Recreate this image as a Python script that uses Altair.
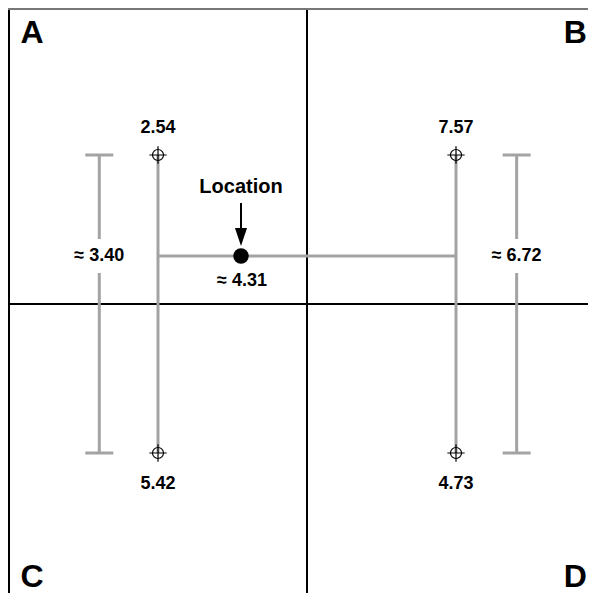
import altair as alt
import pandas as pd

# ---- diagram values (grid units: frame spans 0..4, cell centres at 1 and 3) ----
corner_values = [2.54, 7.57, 5.42, 4.73]
corner_u = [1.0, 3.0, 1.0, 3.0]
corner_v = [3.0, 3.0, 1.0, 1.0]
corner_row = ["top", "top", "bottom", "bottom"]

letters = ["A", "B", "C", "D"]
letter_u = [0.155, 3.80, 0.155, 3.80]
letter_v = [3.82, 3.82, 0.17, 0.17]

location_u = 1.557
location_v = 2.322
left_interp = "≈ 3.40"
right_interp = "≈ 6.72"
final_interp = "≈ 4.31"
errbar_u = [0.606, 3.407]

PX = 149.0  # pixels per grid unit
W, H = 580, 585
x_dom = [-1 / PX, (W - 1) / PX]
y_dom = [4 - (H + 2) / PX, 4 - 2 / PX]

xs = alt.Scale(domain=x_dom, nice=False, zero=False)
ys = alt.Scale(domain=y_dom, nice=False, zero=False)
GRAY = "#a3a3a3"
FONT = "Liberation Sans"


def X(f="u"):
    return alt.X(f"{f}:Q", scale=xs, axis=None)


def Y(f="v"):
    return alt.Y(f"{f}:Q", scale=ys, axis=None)


# black frame / dividers
frame = pd.DataFrame({
    "u": [0, 2, 0], "u2": [0, 2, 4.2],
    "v": [-0.2, -0.2, 2], "v2": [4, 4, 2],
})
frame_layer = alt.Chart(frame).mark_rule(color="black", strokeWidth=2).encode(
    x=X(), x2="u2:Q", y=Y(), y2="v2:Q")
top_border = alt.Chart(pd.DataFrame({"a": [0]})).mark_rule(
    color="#777777", strokeWidth=2).encode(
    x=alt.value(0), x2=alt.value(W), y=alt.value(1))

# grey construction lines
cap = 14 / PX
gap = 17 / PX
segs = []
segs.append((corner_u[0], corner_v[0], corner_u[2], corner_v[2]))
segs.append((corner_u[1], corner_v[1], corner_u[3], corner_v[3]))
segs.append((corner_u[0], location_v, corner_u[1], location_v))
for eu in errbar_u:
    segs.append((eu, corner_v[0], eu, location_v + gap))
    segs.append((eu, location_v - gap, eu, corner_v[2]))
    segs.append((eu - cap, corner_v[0], eu + cap, corner_v[0]))
    segs.append((eu - cap, corner_v[2], eu + cap, corner_v[2]))
gray = pd.DataFrame(segs, columns=["u", "v", "u2", "v2"])
gray_layer = alt.Chart(gray).mark_rule(color=GRAY, strokeWidth=3).encode(
    x=X(), x2="u2:Q", y=Y(), y2="v2:Q")

corners = pd.DataFrame({"u": corner_u, "v": corner_v,
                        "val": [f"{c:.2f}" for c in corner_values],
                        "row": corner_row})
circ = alt.Chart(corners).mark_point(shape="circle", filled=False, color="black",
                                     strokeWidth=1.2, size=121, opacity=1).encode(
    x=X(), y=Y())
cross = alt.Chart(corners).mark_point(shape="M-1,0L1,0M0,-1L0,1", filled=False,
                                      color="black", strokeWidth=1.2, size=300,
                                      opacity=1).encode(x=X(), y=Y())
txt_top = alt.Chart(corners).transform_filter("datum.row == 'top'").mark_text(
    font=FONT, fontWeight="bold", fontSize=18, dy=-27, color="black").encode(
    x=X(), y=Y(), text="val:N")
txt_bot = alt.Chart(corners).transform_filter("datum.row == 'bottom'").mark_text(
    font=FONT, fontWeight="bold", fontSize=18, dy=31, color="black").encode(
    x=X(), y=Y(), text="val:N")

interp = pd.DataFrame({"u": errbar_u, "v": [location_v, location_v],
                       "t": [left_interp, right_interp]})
interp_txt = alt.Chart(interp).mark_text(font=FONT, fontWeight="bold", fontSize=18,
                                         color="black").encode(
    x=X(), y=Y(), text="t:N")

loc = pd.DataFrame({"u": [location_u], "v": [location_v], "t": [final_interp],
                    "name": ["Location"],
                    "a1": [location_v + 53 / PX], "a2": [location_v + 22 / PX],
                    "ah": [location_v + 19 / PX]})
dot = alt.Chart(loc).mark_point(shape="circle", filled=True, color="black",
                                size=240, opacity=1).encode(x=X(), y=Y())
arrow_line = alt.Chart(loc).mark_rule(color="black", strokeWidth=2).encode(
    x=X(), y=Y("a1"), y2="a2:Q")
arrow_head = alt.Chart(loc).mark_point(shape="M-0.67,-1L0.67,-1L0,1Z", filled=True,
                                       color="black", size=324, opacity=1).encode(
    x=X(), y=Y("ah"))
loc_name = alt.Chart(loc).mark_text(font=FONT, fontWeight="bold", fontSize=20,
                                    dy=-69, color="black").encode(
    x=X(), y=Y(), text="name:N")
loc_val = alt.Chart(loc).mark_text(font=FONT, fontWeight="bold", fontSize=18,
                                   dy=25, dx=1, color="black").encode(
    x=X(), y=Y(), text="t:N")

lett = pd.DataFrame({"u": letter_u, "v": letter_v, "t": letters})
lett_txt = alt.Chart(lett).mark_text(font=FONT, fontWeight="bold", fontSize=32,
                                     color="black").encode(
    x=X(), y=Y(), text="t:N")

chart = alt.layer(
    frame_layer, top_border, gray_layer, circ, cross, txt_top, txt_bot,
    interp_txt, arrow_line, arrow_head, dot, loc_name, loc_val, lett_txt
).properties(width=W, height=H, padding=0, autosize="none",
             background="white").configure_view(stroke=None)

chart.save("out.html", embed_options={"renderer": "svg", "actions": False})
